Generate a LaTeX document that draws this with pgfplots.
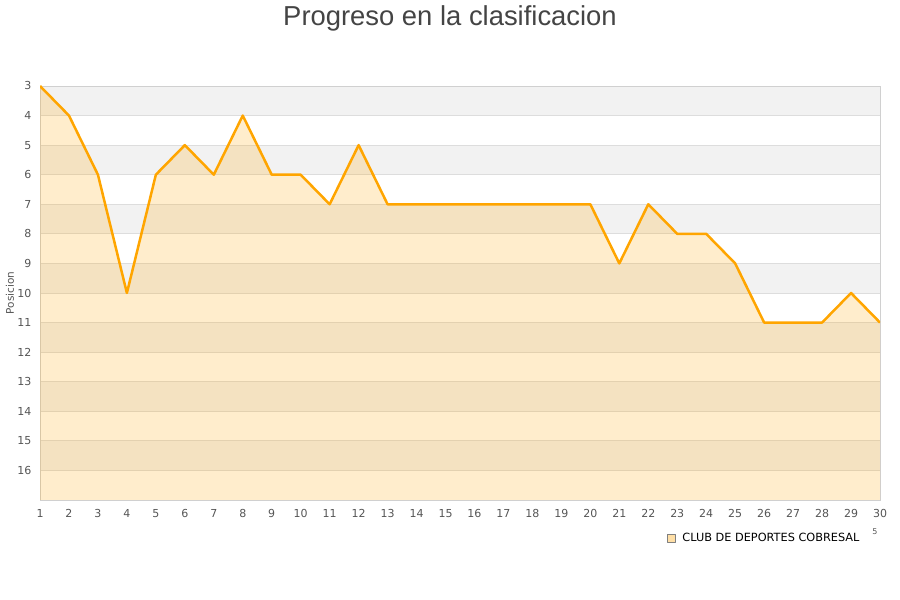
\documentclass[border=0pt]{standalone}
\usepackage{fontspec}
\setmainfont{DejaVu Sans}
\newfontfamily\titlefont{Liberation Sans}
\usepackage{pgfplots}
\pgfplotsset{compat=1.18}
\usepgfplotslibrary{fillbetween}

\definecolor{lineorange}{HTML}{FFA500}
\definecolor{bandgray}{HTML}{F2F2F2}
\definecolor{gridgray}{HTML}{DDDDDD}
\definecolor{axisgray}{HTML}{D0D0D0}
\definecolor{ticktext}{HTML}{555555}
\definecolor{titletext}{HTML}{444444}

\pgfplotsset{band/.style={fill=bandgray, draw=none, forget plot, on layer=axis background}}

\begin{document}
\begin{tikzpicture}
\begin{axis}[
    set layers,
    at={(40bp,100bp)}, anchor=south west,
    scale only axis,
    width=840bp, height=414bp,
    xmin=1, xmax=30,
    ymin=3, ymax=17,
    y dir=reverse,
    xtick={1,...,30},
    ytick={3,...,16},
    major tick length=0pt,
    ymajorgrids,
    major grid style={draw=gridgray, line width=0.8bp},
    axis line style={draw=axisgray, line width=0.8bp},
    /pgf/number format/assume math mode=true,
    tick label style={text=ticktext, font=\fontsize{11bp}{13bp}\selectfont},
    xticklabel style={yshift=-6bp},
    yticklabel style={xshift=-5bp},
    ylabel={Posicion},
    ylabel style={text=ticktext, font=\fontsize{10.5bp}{12bp}\selectfont,
      anchor=center, at={(axis description cs:-0.0357,0.5)}},
    legend style={draw=none, fill=none, at={(rel axis cs:0.7464,-0.092)}, anchor=west,
      inner sep=0pt, font=\fontsize{11.3bp}{13bp}\selectfont, text=black},
    legend image code/.code={
      \draw[draw=gray, fill=lineorange!35, line width=0.6bp] (0bp,-4bp) rectangle (8bp,4bp);
      \path[draw=none, fill=none] (0bp,0bp) -- (13bp,0bp);
    },
]
\addplot[band] coordinates {(1,3) (30,3) (30,4) (1,4)};
\addplot[band] coordinates {(1,5) (30,5) (30,6) (1,6)};
\addplot[band] coordinates {(1,7) (30,7) (30,8) (1,8)};
\addplot[band] coordinates {(1,9) (30,9) (30,10) (1,10)};
\addplot[band] coordinates {(1,11) (30,11) (30,12) (1,12)};
\addplot[band] coordinates {(1,13) (30,13) (30,14) (1,14)};
\addplot[band] coordinates {(1,15) (30,15) (30,16) (1,16)};

\addplot[name path=pos, draw=none, forget plot] coordinates {
  (1,3) (2,4) (3,6) (4,10) (5,6) (6,5) (7,6) (8,4) (9,6) (10,6)
  (11,7) (12,5) (13,7) (14,7) (15,7) (16,7) (17,7) (18,7) (19,7) (20,7)
  (21,9) (22,7) (23,8) (24,8) (25,9) (26,11) (27,11) (28,11) (29,10) (30,11)
};
\addplot[name path=base, draw=none, forget plot] coordinates {(1,17) (30,17)};
\addplot[fill=lineorange, fill opacity=0.2, draw=none, forget plot] fill between[of=pos and base];
\addplot[draw=lineorange, line width=2.5bp, line join=round, mark=none] coordinates {
  (1,3) (2,4) (3,6) (4,10) (5,6) (6,5) (7,6) (8,4) (9,6) (10,6)
  (11,7) (12,5) (13,7) (14,7) (15,7) (16,7) (17,7) (18,7) (19,7) (20,7)
  (21,9) (22,7) (23,8) (24,8) (25,9) (26,11) (27,11) (28,11) (29,10) (30,11)
};
\addlegendentry{CLUB DE DEPORTES COBRESAL}
\end{axis}
\node[anchor=base, text=titletext, font=\titlefont\fontsize{27.4bp}{31bp}\selectfont]
  at (450bp,574bp) {Progreso en la clasificacion};
\node[text=ticktext, font=\fontsize{8bp}{9bp}\selectfont] at (875bp,68bp) {5};
\path (0,0) rectangle (900bp,600bp);
\end{tikzpicture}
\end{document}
